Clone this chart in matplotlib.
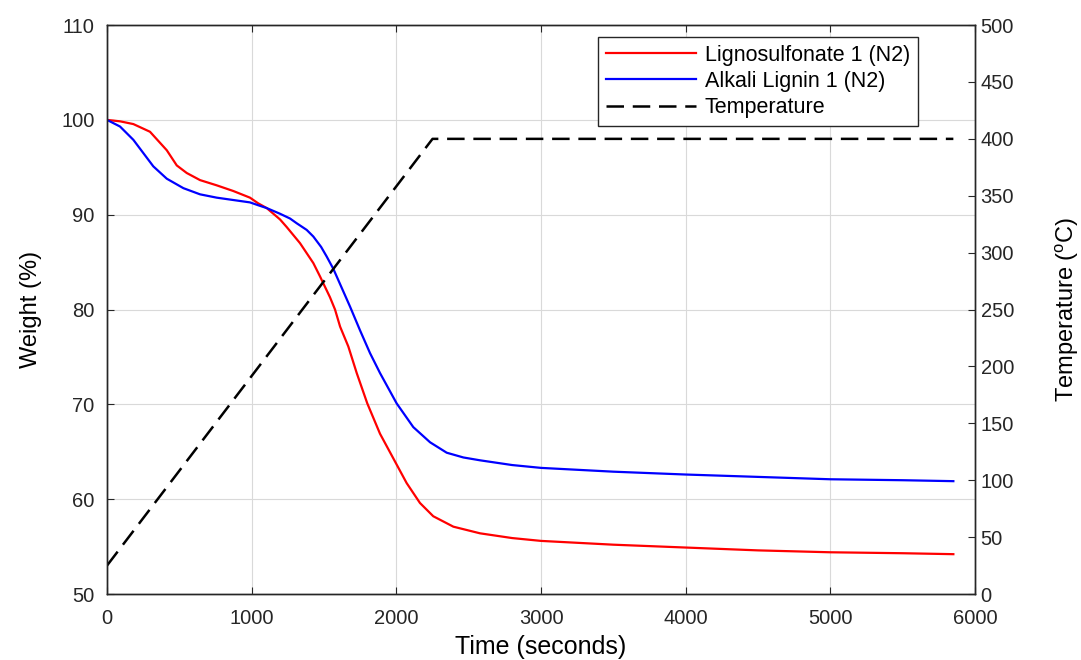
import numpy as np
import matplotlib
matplotlib.use('Agg')
import matplotlib.pyplot as plt

####### data #######

# Lignosulfonate 1 (N2) : time (s), weight (%)
ligno_t = [0, 90, 182, 297, 413, 482, 551, 643, 758, 873, 988, 1045, 1104,
           1150, 1196, 1242, 1334, 1426, 1472, 1541, 1576, 1611, 1668, 1726,
           1799, 1887, 1979, 2071, 2163, 2255, 2394, 2578, 2800, 3000, 3500,
           4000, 4500, 5000, 5500, 5850]
ligno_w = [100, 99.85, 99.56, 98.75, 96.8, 95.2, 94.4, 93.65, 93.1, 92.5,
           91.8, 91.2, 90.7, 90.1, 89.5, 88.7, 87.0, 84.9, 83.5, 81.3, 80.0,
           78.2, 76.1, 73.3, 70.1, 66.9, 64.3, 61.7, 59.6, 58.2, 57.1, 56.4,
           55.9, 55.6, 55.2, 54.9, 54.6, 54.4, 54.3, 54.2]

# Alkali Lignin 1 (N2)
alkali_t = [0, 90, 182, 251, 320, 413, 528, 643, 758, 873, 988, 1045, 1104,
            1196, 1265, 1311, 1380, 1426, 1480, 1518, 1564, 1680, 1749, 1818,
            1887, 2002, 2117, 2233, 2348, 2463, 2578, 2800, 3000, 3500, 4000,
            4500, 5000, 5500, 5850]
alkali_w = [100, 99.3, 97.9, 96.5, 95.1, 93.8, 92.8, 92.15, 91.8, 91.55,
            91.3, 91.0, 90.7, 90.1, 89.6, 89.1, 88.4, 87.7, 86.6, 85.6, 84.3,
            80.3, 77.8, 75.4, 73.3, 70.1, 67.6, 66.0, 64.9, 64.4, 64.1, 63.6,
            63.3, 62.9, 62.6, 62.35, 62.1, 62.0, 61.9]

# Temperature program
temp_t = [0, 2250, 5850]
temp_c = [25, 400, 400]

x_ticks = [0, 1000, 2000, 3000, 4000, 5000, 6000]
w_ticks = [50, 60, 70, 80, 90, 100, 110]
c_ticks = [0, 50, 100, 150, 200, 250, 300, 350, 400, 450, 500]

####### plot #######

plt.rcParams['font.family'] = ['Liberation Sans', 'DejaVu Sans']
plt.rcParams['mathtext.fontset'] = 'custom'
plt.rcParams['mathtext.rm'] = 'Liberation Sans'

tick_color = '#262626'

fig = plt.figure(figsize=(10.81, 6.60), dpi=100)
ax = fig.add_axes([0.099, 0.100, 0.803, 0.862])

l1, = ax.plot(ligno_t, ligno_w, color='red', lw=1.6,
              label='Lignosulfonate 1 (N2)')
l2, = ax.plot(alkali_t, alkali_w, color='blue', lw=1.6,
              label='Alkali Lignin 1 (N2)')

ax.set_xlim(0, 6000)
ax.set_ylim(50, 110)
ax.set_xticks(x_ticks)
ax.set_yticks(w_ticks)
ax.grid(True, color='#d9d9d9', lw=0.8)
ax.set_axisbelow(True)
ax.tick_params(direction='in', top=True, length=5, labelsize=14.5,
               colors=tick_color, labelcolor=tick_color)
ax.tick_params(axis='x', pad=11)
ax.tick_params(axis='y', pad=9)
ax.set_xlabel('Time (seconds)', fontsize=18, labelpad=5)
ax.set_ylabel('Weight (%)', fontsize=17, labelpad=14)

ax2 = ax.twinx()
l3, = ax2.plot(temp_t, temp_c, color='black', lw=1.8,
               linestyle=(0, (7, 3.5)), label='Temperature')
ax2.set_ylim(0, 500)
ax2.set_yticks(c_ticks)
ax2.tick_params(direction='in', length=5, labelsize=14.5, pad=4,
                colors=tick_color, labelcolor=tick_color)
ax2.set_ylabel(r'Temperature ($^\mathrm{o}$C)', fontsize=17, labelpad=28)

for a in (ax, ax2):
    for s in a.spines.values():
        s.set_color(tick_color)
        s.set_linewidth(1.0)

leg = ax2.legend(handles=[l1, l2, l3], loc='upper right',
                 bbox_to_anchor=(0.934, 0.979), borderaxespad=0,
                 fontsize=15.5, handlelength=4.2, handletextpad=0.4,
                 labelspacing=0.25, fancybox=False, framealpha=1,
                 edgecolor=tick_color, borderpad=0.35)
leg.get_frame().set_linewidth(1.0)

plt.savefig('out.png', dpi=100)
plt.close('all')
